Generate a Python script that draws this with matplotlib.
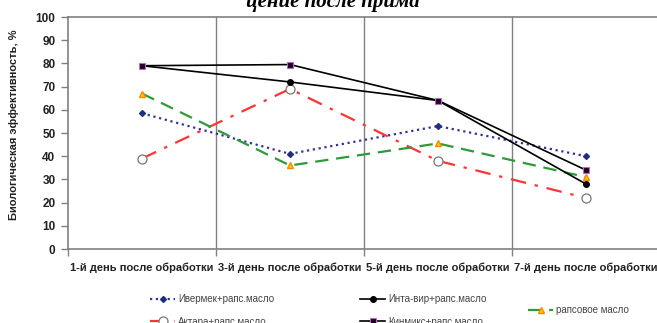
import matplotlib
matplotlib.use("Agg")
import matplotlib.pyplot as plt
import numpy as np

plt.rcParams['font.family'] = ['Liberation Sans', 'DejaVu Sans']

# days after treatment
days = ["1-й день после обработки", "3-й день после обработки",
        "5-й день после обработки", "7-й день после обработки"]

ivermek = [58.5, 41, 53, 40]
intavir = [79, 72, 64, 28]
raps = [67, 36, 45.5, 31]
aktara = [39, 69, 38, 22]
kinmiks = [79, 79.5, 64, 34]

names = ["Ивермек+рапс.масло", "Инта-вир+рапс.масло", "рапсовое масло",
         "Актара+рапс.масло", "Кинмикс+рапс.масло"]

W, H = 657, 323
fig = plt.figure(figsize=(W / 100, H / 100), dpi=100)
ax = fig.add_axes([68 / W, 1 - 249 / H, 592 / W, 232 / H])

x = np.arange(len(days)) + 0.5

l_iv, = ax.plot(x, ivermek, ':', color='#333399', lw=1.6, marker='D', ms=3,
                mfc='#1f2f80', mec='#1f2f80', label=names[0])
l_ak, = ax.plot(x, aktara, linestyle=(0, (7, 4, 1.5, 4)), color='#ff3333', lw=1.6,
                marker='o', ms=6.5, mfc='white', mec='#777777', mew=0.9, label=names[3])
l_ra, = ax.plot(x, raps, linestyle=(0, (6, 3.5)), color='#2e9a3a', lw=1.6,
                marker='^', ms=5, mfc='#ffcc00', mec='#ff8800', label=names[2])
l_in, = ax.plot(x, intavir, '-', color='black', lw=1.2, marker='o', ms=4,
                mfc='black', mec='black', label=names[1])
l_ki, = ax.plot(x, kinmiks, '-', color='black', lw=1.2, marker='s', ms=5,
                mfc='#200020', mec='#b070c0', mew=0.8, label=names[4])

# axes and gridlines
ax.set_xlim(0, 4)
ax.set_ylim(0, 100)
ax.set_yticks(np.arange(0, 101, 10))
ax.set_xticks([0, 1, 2, 3, 4])
ax.set_xticklabels([])
ax.set_xticks(x, minor=True)
ax.set_xticklabels(days, minor=True, fontsize=8, fontweight='bold', color='#222222')
ax.tick_params(axis='x', which='minor', length=0, pad=10)
ax.tick_params(axis='x', which='major', length=5, width=1, color='#808080')
ax.tick_params(axis='y', length=5, width=1, color='#808080', labelsize=8.5,
               labelcolor='#222222', pad=4)
for t in ax.get_yticklabels():
    t.set_fontweight('bold')
for xv in [1, 2, 3]:
    ax.axvline(xv, color='#808080', lw=1, zorder=0)
for s in ax.spines.values():
    s.set_color('#808080')
    s.set_linewidth(1.2)

fig.text(14 / W, 1 - 125 / H, "Биологическая эффективность, %", rotation=90,
         ha='center', va='center', fontsize=8, fontweight='bold', color='#222222')

# title sits partly above the figure top edge
fig.text(333 / W, 1 - 7 / H, "цение после прима", ha='center', va='baseline',
         fontsize=15, fontweight='bold', fontstyle='italic',
         family=['Liberation Serif', 'DejaVu Serif'])

leg_kw = dict(frameon=False, fontsize=7, loc='upper left', borderpad=0,
              borderaxespad=0, handlelength=2.6, handletextpad=0.3,
              labelspacing=1.3, labelcolor='#444444')
fig.legend([l_iv, l_ak], [names[0], names[3]],
           bbox_to_anchor=(150 / W, 1 - 294 / H), **leg_kw)
fig.legend([l_in, l_ki], [names[1], names[4]],
           bbox_to_anchor=(360 / W, 1 - 294 / H), **leg_kw)
fig.legend([l_ra], [names[2]],
           bbox_to_anchor=(528 / W, 1 - 305 / H), **leg_kw)

fig.savefig("out.png", dpi=100)
